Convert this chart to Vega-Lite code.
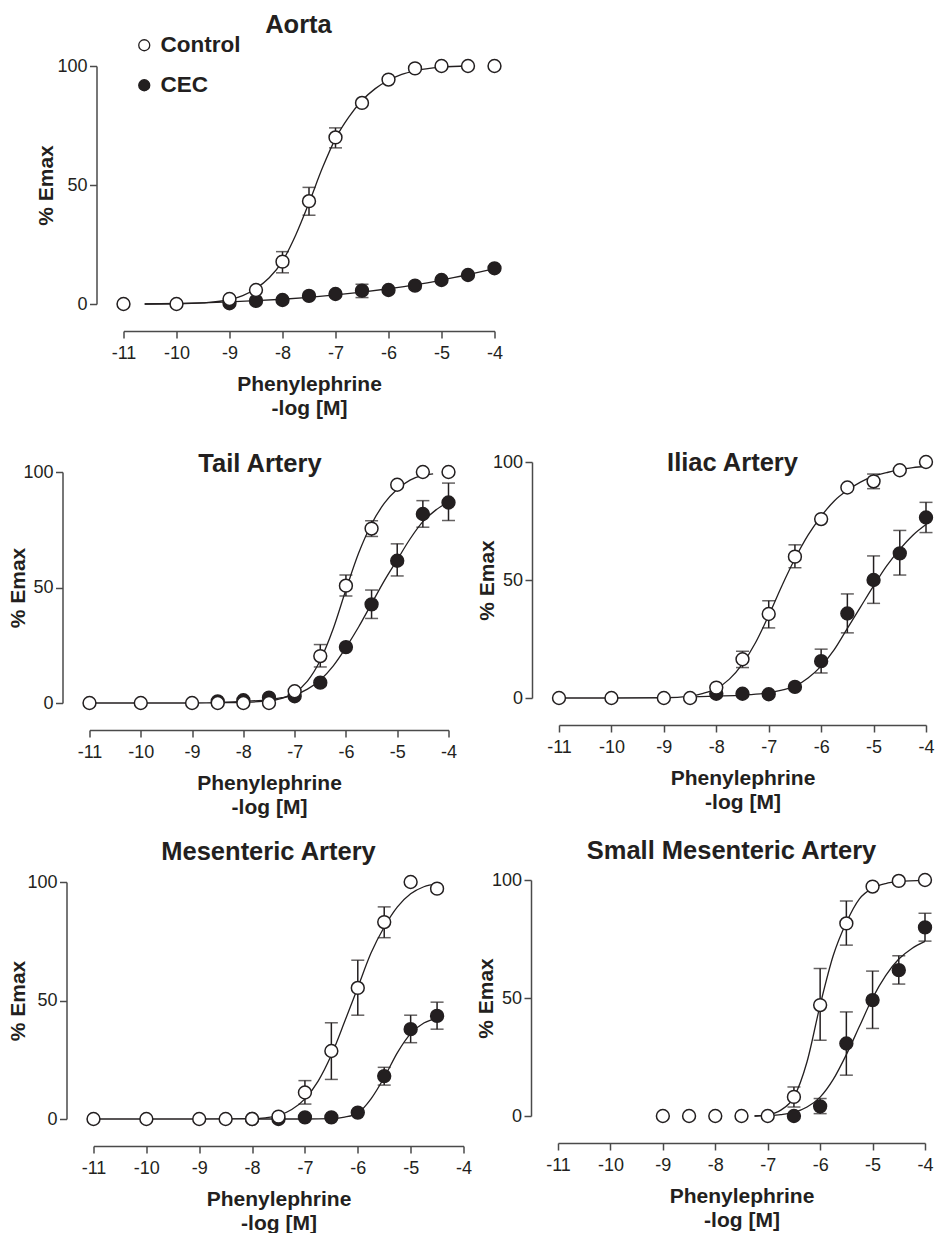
{
  "$schema": "https://vega.github.io/schema/vega-lite/v6.json",
  "background": "white",
  "padding": {"left": 6.5, "top": 12, "right": 0, "bottom": 0},
  "datasets": {
    "points": [
      {"panel": "Aorta", "group": "Control", "x": -11, "y": 0},
      {"panel": "Aorta", "group": "Control", "x": -10, "y": 0},
      {"panel": "Aorta", "group": "Control", "x": -9, "y": 2.1},
      {"panel": "Aorta", "group": "Control", "x": -8.5, "y": 5.9},
      {"panel": "Aorta", "group": "Control", "x": -8, "y": 17.8, "lo": 13.1, "hi": 22},
      {"panel": "Aorta", "group": "Control", "x": -7.5, "y": 43.2, "lo": 37.3, "hi": 49},
      {"panel": "Aorta", "group": "Control", "x": -7, "y": 70, "lo": 65.6, "hi": 74},
      {"panel": "Aorta", "group": "Control", "x": -6.5, "y": 84.5},
      {"panel": "Aorta", "group": "Control", "x": -6, "y": 94.3},
      {"panel": "Aorta", "group": "Control", "x": -5.5, "y": 99},
      {"panel": "Aorta", "group": "Control", "x": -5, "y": 100},
      {"panel": "Aorta", "group": "Control", "x": -4.5, "y": 100},
      {"panel": "Aorta", "group": "Control", "x": -4, "y": 100},
      {"panel": "Aorta", "group": "CEC", "x": -9, "y": 0.3},
      {"panel": "Aorta", "group": "CEC", "x": -8.5, "y": 1.3},
      {"panel": "Aorta", "group": "CEC", "x": -8, "y": 1.7},
      {"panel": "Aorta", "group": "CEC", "x": -7.5, "y": 3.4},
      {"panel": "Aorta", "group": "CEC", "x": -7, "y": 4.2},
      {"panel": "Aorta", "group": "CEC", "x": -6.5, "y": 5.6, "lo": 2.7, "hi": 8.3},
      {"panel": "Aorta", "group": "CEC", "x": -6, "y": 5.9},
      {"panel": "Aorta", "group": "CEC", "x": -5.5, "y": 7.7},
      {"panel": "Aorta", "group": "CEC", "x": -5, "y": 10.1},
      {"panel": "Aorta", "group": "CEC", "x": -4.5, "y": 12.2},
      {"panel": "Aorta", "group": "CEC", "x": -4, "y": 15},

      {"panel": "Tail", "group": "Control", "x": -11, "y": 0},
      {"panel": "Tail", "group": "Control", "x": -10, "y": 0},
      {"panel": "Tail", "group": "Control", "x": -9, "y": 0},
      {"panel": "Tail", "group": "Control", "x": -8.5, "y": 0},
      {"panel": "Tail", "group": "Control", "x": -8, "y": 0},
      {"panel": "Tail", "group": "Control", "x": -7.5, "y": 0},
      {"panel": "Tail", "group": "Control", "x": -7, "y": 5.1},
      {"panel": "Tail", "group": "Control", "x": -6.5, "y": 20.3, "lo": 15.6, "hi": 25.3},
      {"panel": "Tail", "group": "Control", "x": -6, "y": 50.8, "lo": 46.3, "hi": 55.4},
      {"panel": "Tail", "group": "Control", "x": -5.5, "y": 75.5, "lo": 72.1, "hi": 78.9},
      {"panel": "Tail", "group": "Control", "x": -5, "y": 94.5},
      {"panel": "Tail", "group": "Control", "x": -4.5, "y": 100},
      {"panel": "Tail", "group": "Control", "x": -4, "y": 100},
      {"panel": "Tail", "group": "CEC", "x": -8.5, "y": 0.7},
      {"panel": "Tail", "group": "CEC", "x": -8, "y": 1.2},
      {"panel": "Tail", "group": "CEC", "x": -7.5, "y": 2.3},
      {"panel": "Tail", "group": "CEC", "x": -7, "y": 2.9},
      {"panel": "Tail", "group": "CEC", "x": -6.5, "y": 8.8},
      {"panel": "Tail", "group": "CEC", "x": -6, "y": 24.2},
      {"panel": "Tail", "group": "CEC", "x": -5.5, "y": 42.7, "lo": 36.6, "hi": 48.9},
      {"panel": "Tail", "group": "CEC", "x": -5, "y": 61.6, "lo": 55, "hi": 68.9},
      {"panel": "Tail", "group": "CEC", "x": -4.5, "y": 81.8, "lo": 76.1, "hi": 87.6},
      {"panel": "Tail", "group": "CEC", "x": -4, "y": 86.8, "lo": 79, "hi": 95.2},

      {"panel": "Iliac", "group": "Control", "x": -11, "y": 0},
      {"panel": "Iliac", "group": "Control", "x": -10, "y": 0},
      {"panel": "Iliac", "group": "Control", "x": -9, "y": 0},
      {"panel": "Iliac", "group": "Control", "x": -8.5, "y": 0},
      {"panel": "Iliac", "group": "Control", "x": -8, "y": 4.4},
      {"panel": "Iliac", "group": "Control", "x": -7.5, "y": 16.4, "lo": 12.9, "hi": 19.8},
      {"panel": "Iliac", "group": "Control", "x": -7, "y": 35.6, "lo": 29.7, "hi": 41.2},
      {"panel": "Iliac", "group": "Control", "x": -6.5, "y": 59.9, "lo": 55.2, "hi": 64.9},
      {"panel": "Iliac", "group": "Control", "x": -6, "y": 75.8},
      {"panel": "Iliac", "group": "Control", "x": -5.5, "y": 89.2},
      {"panel": "Iliac", "group": "Control", "x": -5, "y": 91.8, "lo": 88.7, "hi": 94.9},
      {"panel": "Iliac", "group": "Control", "x": -4.5, "y": 96.5},
      {"panel": "Iliac", "group": "Control", "x": -4, "y": 100},
      {"panel": "Iliac", "group": "CEC", "x": -8, "y": 1.8},
      {"panel": "Iliac", "group": "CEC", "x": -7.5, "y": 1.8},
      {"panel": "Iliac", "group": "CEC", "x": -7, "y": 1.6},
      {"panel": "Iliac", "group": "CEC", "x": -6.5, "y": 4.7},
      {"panel": "Iliac", "group": "CEC", "x": -6, "y": 15.6, "lo": 10.6, "hi": 20.7},
      {"panel": "Iliac", "group": "CEC", "x": -5.5, "y": 35.8, "lo": 27.6, "hi": 44.1},
      {"panel": "Iliac", "group": "CEC", "x": -5, "y": 50, "lo": 40.1, "hi": 60.2},
      {"panel": "Iliac", "group": "CEC", "x": -4.5, "y": 61.3, "lo": 52.1, "hi": 71},
      {"panel": "Iliac", "group": "CEC", "x": -4, "y": 76.5, "lo": 70.1, "hi": 82.9},

      {"panel": "Mes", "group": "Control", "x": -11, "y": 0},
      {"panel": "Mes", "group": "Control", "x": -10, "y": 0},
      {"panel": "Mes", "group": "Control", "x": -9, "y": 0},
      {"panel": "Mes", "group": "Control", "x": -8.5, "y": 0},
      {"panel": "Mes", "group": "Control", "x": -8, "y": 0},
      {"panel": "Mes", "group": "Control", "x": -7.5, "y": 1},
      {"panel": "Mes", "group": "Control", "x": -7, "y": 11.2, "lo": 6.3, "hi": 16.2},
      {"panel": "Mes", "group": "Control", "x": -6.5, "y": 28.7, "lo": 16.7, "hi": 40.6},
      {"panel": "Mes", "group": "Control", "x": -6, "y": 55.3, "lo": 43.8, "hi": 67},
      {"panel": "Mes", "group": "Control", "x": -5.5, "y": 83.1, "lo": 76.5, "hi": 89.5},
      {"panel": "Mes", "group": "Control", "x": -5, "y": 100},
      {"panel": "Mes", "group": "Control", "x": -4.5, "y": 97.2},
      {"panel": "Mes", "group": "CEC", "x": -8, "y": 0},
      {"panel": "Mes", "group": "CEC", "x": -7.5, "y": 0},
      {"panel": "Mes", "group": "CEC", "x": -7, "y": 0.7},
      {"panel": "Mes", "group": "CEC", "x": -6.5, "y": 0.7},
      {"panel": "Mes", "group": "CEC", "x": -6, "y": 2.7},
      {"panel": "Mes", "group": "CEC", "x": -5.5, "y": 18.1, "lo": 14.3, "hi": 21.8},
      {"panel": "Mes", "group": "CEC", "x": -5, "y": 37.9, "lo": 32.2, "hi": 43.8},
      {"panel": "Mes", "group": "CEC", "x": -4.5, "y": 43.5, "lo": 37.9, "hi": 49.3},

      {"panel": "Small", "group": "Control", "x": -9, "y": 0},
      {"panel": "Small", "group": "Control", "x": -8.5, "y": 0},
      {"panel": "Small", "group": "Control", "x": -8, "y": 0},
      {"panel": "Small", "group": "Control", "x": -7.5, "y": 0},
      {"panel": "Small", "group": "Control", "x": -7, "y": 0},
      {"panel": "Small", "group": "Control", "x": -6.5, "y": 8.1, "lo": 3.8, "hi": 12.3},
      {"panel": "Small", "group": "Control", "x": -6, "y": 47, "lo": 32.1, "hi": 62.5},
      {"panel": "Small", "group": "Control", "x": -5.5, "y": 81.6, "lo": 72.4, "hi": 91.1},
      {"panel": "Small", "group": "Control", "x": -5, "y": 97.2},
      {"panel": "Small", "group": "Control", "x": -4.5, "y": 99.6},
      {"panel": "Small", "group": "Control", "x": -4, "y": 100},
      {"panel": "Small", "group": "CEC", "x": -6.5, "y": 0},
      {"panel": "Small", "group": "CEC", "x": -6, "y": 4.1, "lo": 1, "hi": 7.4},
      {"panel": "Small", "group": "CEC", "x": -5.5, "y": 30.7, "lo": 17.3, "hi": 44.1},
      {"panel": "Small", "group": "CEC", "x": -5, "y": 49.1, "lo": 37.1, "hi": 61.4},
      {"panel": "Small", "group": "CEC", "x": -4.5, "y": 61.8, "lo": 55.9, "hi": 67.9},
      {"panel": "Small", "group": "CEC", "x": -4, "y": 79.9, "lo": 74.1, "hi": 85.9}
    ],
    "curves": [
      {"panel": "Aorta", "group": "Control", "x": -10.6, "y": 0},
      {"panel": "Aorta", "group": "Control", "x": -10, "y": 0.1},
      {"panel": "Aorta", "group": "Control", "x": -9.5, "y": 0.5},
      {"panel": "Aorta", "group": "Control", "x": -9, "y": 1.8},
      {"panel": "Aorta", "group": "Control", "x": -8.75, "y": 3.5},
      {"panel": "Aorta", "group": "Control", "x": -8.5, "y": 6.5},
      {"panel": "Aorta", "group": "Control", "x": -8.25, "y": 11},
      {"panel": "Aorta", "group": "Control", "x": -8, "y": 18},
      {"panel": "Aorta", "group": "Control", "x": -7.75, "y": 29},
      {"panel": "Aorta", "group": "Control", "x": -7.5, "y": 42.5},
      {"panel": "Aorta", "group": "Control", "x": -7.25, "y": 57},
      {"panel": "Aorta", "group": "Control", "x": -7, "y": 69.5},
      {"panel": "Aorta", "group": "Control", "x": -6.75, "y": 78.5},
      {"panel": "Aorta", "group": "Control", "x": -6.5, "y": 85.5},
      {"panel": "Aorta", "group": "Control", "x": -6.25, "y": 90.5},
      {"panel": "Aorta", "group": "Control", "x": -6, "y": 94},
      {"panel": "Aorta", "group": "Control", "x": -5.75, "y": 96.5},
      {"panel": "Aorta", "group": "Control", "x": -5.5, "y": 98},
      {"panel": "Aorta", "group": "Control", "x": -5, "y": 99.5},
      {"panel": "Aorta", "group": "Control", "x": -4.5, "y": 100},
      {"panel": "Aorta", "group": "CEC", "x": -10.6, "y": 0},
      {"panel": "Aorta", "group": "CEC", "x": -10, "y": 0.2},
      {"panel": "Aorta", "group": "CEC", "x": -9.5, "y": 0.5},
      {"panel": "Aorta", "group": "CEC", "x": -9, "y": 0.9},
      {"panel": "Aorta", "group": "CEC", "x": -8.5, "y": 1.4},
      {"panel": "Aorta", "group": "CEC", "x": -8, "y": 2},
      {"panel": "Aorta", "group": "CEC", "x": -7.5, "y": 2.8},
      {"panel": "Aorta", "group": "CEC", "x": -7, "y": 3.8},
      {"panel": "Aorta", "group": "CEC", "x": -6.5, "y": 5},
      {"panel": "Aorta", "group": "CEC", "x": -6, "y": 6.4},
      {"panel": "Aorta", "group": "CEC", "x": -5.5, "y": 8},
      {"panel": "Aorta", "group": "CEC", "x": -5, "y": 10},
      {"panel": "Aorta", "group": "CEC", "x": -4.5, "y": 12.3},
      {"panel": "Aorta", "group": "CEC", "x": -4, "y": 14.8},

      {"panel": "Tail", "group": "Control", "x": -11, "y": 0},
      {"panel": "Tail", "group": "Control", "x": -10, "y": 0},
      {"panel": "Tail", "group": "Control", "x": -9, "y": 0},
      {"panel": "Tail", "group": "Control", "x": -8.5, "y": 0.1},
      {"panel": "Tail", "group": "Control", "x": -8, "y": 0.3},
      {"panel": "Tail", "group": "Control", "x": -7.5, "y": 0.9},
      {"panel": "Tail", "group": "Control", "x": -7.25, "y": 2},
      {"panel": "Tail", "group": "Control", "x": -7, "y": 4.5},
      {"panel": "Tail", "group": "Control", "x": -6.75, "y": 9.5},
      {"panel": "Tail", "group": "Control", "x": -6.5, "y": 18.5},
      {"panel": "Tail", "group": "Control", "x": -6.25, "y": 32},
      {"panel": "Tail", "group": "Control", "x": -6, "y": 49},
      {"panel": "Tail", "group": "Control", "x": -5.75, "y": 65},
      {"panel": "Tail", "group": "Control", "x": -5.5, "y": 77.5},
      {"panel": "Tail", "group": "Control", "x": -5.25, "y": 86.5},
      {"panel": "Tail", "group": "Control", "x": -5, "y": 92.5},
      {"panel": "Tail", "group": "Control", "x": -4.75, "y": 96.5},
      {"panel": "Tail", "group": "Control", "x": -4.5, "y": 98.5},
      {"panel": "Tail", "group": "Control", "x": -4.3, "y": 99.2},
      {"panel": "Tail", "group": "CEC", "x": -8.5, "y": 0.3},
      {"panel": "Tail", "group": "CEC", "x": -8, "y": 0.7},
      {"panel": "Tail", "group": "CEC", "x": -7.5, "y": 1.5},
      {"panel": "Tail", "group": "CEC", "x": -7.25, "y": 2.3},
      {"panel": "Tail", "group": "CEC", "x": -7, "y": 3.5},
      {"panel": "Tail", "group": "CEC", "x": -6.75, "y": 6},
      {"panel": "Tail", "group": "CEC", "x": -6.5, "y": 10},
      {"panel": "Tail", "group": "CEC", "x": -6.25, "y": 16},
      {"panel": "Tail", "group": "CEC", "x": -6, "y": 24},
      {"panel": "Tail", "group": "CEC", "x": -5.75, "y": 33},
      {"panel": "Tail", "group": "CEC", "x": -5.5, "y": 43},
      {"panel": "Tail", "group": "CEC", "x": -5.25, "y": 53},
      {"panel": "Tail", "group": "CEC", "x": -5, "y": 62},
      {"panel": "Tail", "group": "CEC", "x": -4.75, "y": 71},
      {"panel": "Tail", "group": "CEC", "x": -4.5, "y": 78.5},
      {"panel": "Tail", "group": "CEC", "x": -4.25, "y": 83.5},
      {"panel": "Tail", "group": "CEC", "x": -4, "y": 87},

      {"panel": "Iliac", "group": "Control", "x": -11, "y": 0},
      {"panel": "Iliac", "group": "Control", "x": -10, "y": 0},
      {"panel": "Iliac", "group": "Control", "x": -9, "y": 0.1},
      {"panel": "Iliac", "group": "Control", "x": -8.5, "y": 0.8},
      {"panel": "Iliac", "group": "Control", "x": -8.25, "y": 2},
      {"panel": "Iliac", "group": "Control", "x": -8, "y": 4},
      {"panel": "Iliac", "group": "Control", "x": -7.75, "y": 8},
      {"panel": "Iliac", "group": "Control", "x": -7.5, "y": 14.5},
      {"panel": "Iliac", "group": "Control", "x": -7.25, "y": 23.5},
      {"panel": "Iliac", "group": "Control", "x": -7, "y": 35},
      {"panel": "Iliac", "group": "Control", "x": -6.75, "y": 47.5},
      {"panel": "Iliac", "group": "Control", "x": -6.5, "y": 59},
      {"panel": "Iliac", "group": "Control", "x": -6.25, "y": 69},
      {"panel": "Iliac", "group": "Control", "x": -6, "y": 77},
      {"panel": "Iliac", "group": "Control", "x": -5.75, "y": 83.5},
      {"panel": "Iliac", "group": "Control", "x": -5.5, "y": 88},
      {"panel": "Iliac", "group": "Control", "x": -5.25, "y": 91.5},
      {"panel": "Iliac", "group": "Control", "x": -5, "y": 94},
      {"panel": "Iliac", "group": "Control", "x": -4.75, "y": 95.5},
      {"panel": "Iliac", "group": "Control", "x": -4.5, "y": 96.8},
      {"panel": "Iliac", "group": "Control", "x": -4.25, "y": 97.6},
      {"panel": "Iliac", "group": "Control", "x": -4, "y": 98.2},
      {"panel": "Iliac", "group": "CEC", "x": -8.5, "y": 0.5},
      {"panel": "Iliac", "group": "CEC", "x": -8, "y": 0.8},
      {"panel": "Iliac", "group": "CEC", "x": -7.5, "y": 1.2},
      {"panel": "Iliac", "group": "CEC", "x": -7, "y": 2.2},
      {"panel": "Iliac", "group": "CEC", "x": -6.75, "y": 3.3},
      {"panel": "Iliac", "group": "CEC", "x": -6.5, "y": 5},
      {"panel": "Iliac", "group": "CEC", "x": -6.25, "y": 8.5},
      {"panel": "Iliac", "group": "CEC", "x": -6, "y": 13.5},
      {"panel": "Iliac", "group": "CEC", "x": -5.75, "y": 20.5},
      {"panel": "Iliac", "group": "CEC", "x": -5.5, "y": 29.5},
      {"panel": "Iliac", "group": "CEC", "x": -5.25, "y": 38.5},
      {"panel": "Iliac", "group": "CEC", "x": -5, "y": 47.5},
      {"panel": "Iliac", "group": "CEC", "x": -4.75, "y": 56},
      {"panel": "Iliac", "group": "CEC", "x": -4.5, "y": 63},
      {"panel": "Iliac", "group": "CEC", "x": -4.25, "y": 69},
      {"panel": "Iliac", "group": "CEC", "x": -4, "y": 73.5},

      {"panel": "Mes", "group": "Control", "x": -11, "y": 0},
      {"panel": "Mes", "group": "Control", "x": -10, "y": 0},
      {"panel": "Mes", "group": "Control", "x": -9, "y": 0},
      {"panel": "Mes", "group": "Control", "x": -8, "y": 0.1},
      {"panel": "Mes", "group": "Control", "x": -7.75, "y": 0.5},
      {"panel": "Mes", "group": "Control", "x": -7.5, "y": 1.5},
      {"panel": "Mes", "group": "Control", "x": -7.25, "y": 4},
      {"panel": "Mes", "group": "Control", "x": -7, "y": 8.5},
      {"panel": "Mes", "group": "Control", "x": -6.75, "y": 16},
      {"panel": "Mes", "group": "Control", "x": -6.5, "y": 27},
      {"panel": "Mes", "group": "Control", "x": -6.25, "y": 41},
      {"panel": "Mes", "group": "Control", "x": -6, "y": 55.5},
      {"panel": "Mes", "group": "Control", "x": -5.75, "y": 70},
      {"panel": "Mes", "group": "Control", "x": -5.5, "y": 81},
      {"panel": "Mes", "group": "Control", "x": -5.25, "y": 89.5},
      {"panel": "Mes", "group": "Control", "x": -5, "y": 95},
      {"panel": "Mes", "group": "Control", "x": -4.75, "y": 98},
      {"panel": "Mes", "group": "Control", "x": -4.5, "y": 99.2},
      {"panel": "Mes", "group": "CEC", "x": -8, "y": 0},
      {"panel": "Mes", "group": "CEC", "x": -7, "y": 0},
      {"panel": "Mes", "group": "CEC", "x": -6.5, "y": 0.2},
      {"panel": "Mes", "group": "CEC", "x": -6.25, "y": 0.8},
      {"panel": "Mes", "group": "CEC", "x": -6, "y": 2.5},
      {"panel": "Mes", "group": "CEC", "x": -5.75, "y": 8.5},
      {"panel": "Mes", "group": "CEC", "x": -5.5, "y": 17.5},
      {"panel": "Mes", "group": "CEC", "x": -5.25, "y": 28},
      {"panel": "Mes", "group": "CEC", "x": -5, "y": 36},
      {"panel": "Mes", "group": "CEC", "x": -4.75, "y": 40.5},
      {"panel": "Mes", "group": "CEC", "x": -4.5, "y": 42.5},

      {"panel": "Small", "group": "Control", "x": -7.25, "y": 0},
      {"panel": "Small", "group": "Control", "x": -7, "y": 0.5},
      {"panel": "Small", "group": "Control", "x": -6.75, "y": 2.5},
      {"panel": "Small", "group": "Control", "x": -6.5, "y": 8},
      {"panel": "Small", "group": "Control", "x": -6.25, "y": 23},
      {"panel": "Small", "group": "Control", "x": -6, "y": 47},
      {"panel": "Small", "group": "Control", "x": -5.75, "y": 68},
      {"panel": "Small", "group": "Control", "x": -5.5, "y": 82},
      {"panel": "Small", "group": "Control", "x": -5.25, "y": 92},
      {"panel": "Small", "group": "Control", "x": -5, "y": 96.5},
      {"panel": "Small", "group": "Control", "x": -4.75, "y": 98.5},
      {"panel": "Small", "group": "Control", "x": -4.5, "y": 99.3},
      {"panel": "Small", "group": "Control", "x": -4, "y": 99.8},
      {"panel": "Small", "group": "CEC", "x": -7.25, "y": 0},
      {"panel": "Small", "group": "CEC", "x": -7, "y": 0.2},
      {"panel": "Small", "group": "CEC", "x": -6.75, "y": 0.6},
      {"panel": "Small", "group": "CEC", "x": -6.5, "y": 1.5},
      {"panel": "Small", "group": "CEC", "x": -6.25, "y": 3.8},
      {"panel": "Small", "group": "CEC", "x": -6, "y": 8},
      {"panel": "Small", "group": "CEC", "x": -5.75, "y": 15.5},
      {"panel": "Small", "group": "CEC", "x": -5.5, "y": 26},
      {"panel": "Small", "group": "CEC", "x": -5.25, "y": 38},
      {"panel": "Small", "group": "CEC", "x": -5, "y": 50},
      {"panel": "Small", "group": "CEC", "x": -4.75, "y": 59.5},
      {"panel": "Small", "group": "CEC", "x": -4.5, "y": 66.5},
      {"panel": "Small", "group": "CEC", "x": -4.25, "y": 71},
      {"panel": "Small", "group": "CEC", "x": -4, "y": 74}
    ]
  },
  "resolve": {"scale": {"fill": "independent"}, "legend": {"fill": "independent"}},
  "columns": 1,
  "align": "none",
  "spacing": 32,
  "concat": [
    {
      "width": 405, "height": 238,
      "title": {"text": "Aorta", "offset": -4, "dx": 6.5},
      "encoding": {
        "x": {"field": "x", "type": "quantitative", "title": ["Phenylephrine", "-log [M]"], "scale": {"domain": [-11, -4], "range": [34, 405], "nice": false, "zero": false}, "axis": {"labelExpr": "'' + datum.value"}},
        "y": {"field": "y", "type": "quantitative", "title": "% Emax", "scale": {"domain": [0, 100], "nice": false}, "axis": {"titlePadding": 0.5, "offset": -7}}
      },
      "layer": [
        {"data": {"name": "curves"}, "transform": [{"filter": "datum.panel === 'Aorta'"}], "mark": {"type": "line", "interpolate": "monotone", "color": "#231f20", "strokeWidth": 1.3}, "encoding": {"detail": {"field": "group", "type": "nominal"}}},
        {"data": {"name": "points"}, "transform": [{"filter": "datum.panel === 'Aorta' && isValid(datum.lo)"}], "mark": {"type": "rule", "color": "#231f20", "strokeWidth": 1.5}, "encoding": {"y": {"field": "lo", "type": "quantitative", "title": "% Emax", "scale": {"domain": [0, 100], "nice": false}}, "y2": {"field": "hi"}}},
        {"data": {"name": "points"}, "transform": [{"filter": "datum.panel === 'Aorta' && isValid(datum.lo)"}, {"fold": ["lo", "hi"], "as": ["end", "v"]}], "mark": {"type": "tick", "orient": "horizontal", "color": "#231f20", "size": 13, "thickness": 1.5}, "encoding": {"y": {"field": "v", "type": "quantitative", "title": "% Emax", "scale": {"domain": [0, 100], "nice": false}}}},
        {"data": {"name": "points"}, "transform": [{"filter": "datum.panel === 'Aorta' && datum.group === 'CEC'"}], "mark": {"type": "point", "shape": "circle", "filled": true, "stroke": "#231f20", "strokeWidth": 1.5, "size": 165, "opacity": 1},
         "encoding": {"fill": {"field": "group", "type": "nominal", "scale": {"domain": ["Control", "CEC"], "range": ["white", "#231f20"]}, "legend": {"orient": "none", "legendX": 43.5, "legendY": -32, "title": null, "padding": 0, "labelFontSize": 22.5, "labelFontWeight": "bold", "labelColor": "#231f20", "labelFont": "Liberation Sans", "symbolType": "circle", "symbolSize": 121, "symbolStrokeColor": "#231f20", "symbolStrokeWidth": 1.3, "rowPadding": 17, "labelOffset": 5}}}},
        {"data": {"name": "points"}, "transform": [{"filter": "datum.panel === 'Aorta' && datum.group === 'Control'"}], "mark": {"type": "point", "shape": "circle", "filled": true, "stroke": "#231f20", "strokeWidth": 1.5, "size": 165, "opacity": 1},
         "encoding": {"fill": {"field": "group", "type": "nominal", "scale": {"domain": ["Control", "CEC"], "range": ["white", "#231f20"]}, "legend": {"orient": "none", "legendX": 43.5, "legendY": -32, "title": null, "padding": 0, "labelFontSize": 22.5, "labelFontWeight": "bold", "labelColor": "#231f20", "labelFont": "Liberation Sans", "symbolType": "circle", "symbolSize": 121, "symbolStrokeColor": "#231f20", "symbolStrokeWidth": 1.3, "rowPadding": 17, "labelOffset": 5}}}}
      ]
    },
    {
      "columns": 1,
      "align": "none",
      "spacing": 22,
      "concat": [
        {
          "columns": 2,
          "align": "none",
          "spacing": 17.5,
          "concat": [
            {
              "width": 359, "height": 241,
              "title": {"text": "Tail Artery", "offset": -15.5, "dx": -9},
              "encoding": {
                "x": {"field": "x", "type": "quantitative", "title": ["Phenylephrine", "-log [M]"], "scale": {"domain": [-11, -4], "nice": false, "zero": false}, "axis": {"labelExpr": "'' + datum.value"}},
                "y": {"field": "y", "type": "quantitative", "title": "% Emax", "scale": {"domain": [0, 100], "range": [241, 10], "nice": false}}
              },
              "layer": [
                {"data": {"name": "curves"}, "transform": [{"filter": "datum.panel === 'Tail'"}], "mark": {"type": "line", "interpolate": "monotone", "color": "#231f20", "strokeWidth": 1.3}, "encoding": {"detail": {"field": "group", "type": "nominal"}}},
                {"data": {"name": "points"}, "transform": [{"filter": "datum.panel === 'Tail' && isValid(datum.lo)"}], "mark": {"type": "rule", "color": "#231f20", "strokeWidth": 1.5}, "encoding": {"y": {"field": "lo", "type": "quantitative", "title": "% Emax", "scale": {"domain": [0, 100], "range": [241, 10], "nice": false}}, "y2": {"field": "hi"}}},
                {"data": {"name": "points"}, "transform": [{"filter": "datum.panel === 'Tail' && isValid(datum.lo)"}, {"fold": ["lo", "hi"], "as": ["end", "v"]}], "mark": {"type": "tick", "orient": "horizontal", "color": "#231f20", "size": 13, "thickness": 1.5}, "encoding": {"y": {"field": "v", "type": "quantitative", "title": "% Emax", "scale": {"domain": [0, 100], "range": [241, 10], "nice": false}}}},
                {"data": {"name": "points"}, "transform": [{"filter": "datum.panel === 'Tail' && datum.group === 'CEC'"}], "mark": {"type": "point", "shape": "circle", "filled": true, "fill": "#231f20", "stroke": "#231f20", "strokeWidth": 1.5, "size": 165, "opacity": 1}},
                {"data": {"name": "points"}, "transform": [{"filter": "datum.panel === 'Tail' && datum.group === 'Control'"}], "mark": {"type": "point", "shape": "circle", "filled": true, "fill": "white", "stroke": "#231f20", "strokeWidth": 1.5, "size": 165, "opacity": 1}}
              ]
            },
            {
              "width": 367, "height": 236,
              "title": {"text": "Iliac Artery", "offset": -23.5, "dx": -10},
              "encoding": {
                "x": {"field": "x", "type": "quantitative", "title": ["Phenylephrine", "-log [M]"], "scale": {"domain": [-11, -4], "nice": false, "zero": false}, "axis": {"labelExpr": "'' + datum.value"}},
                "y": {"field": "y", "type": "quantitative", "title": "% Emax", "scale": {"domain": [0, 100], "nice": false}}
              },
              "layer": [
                {"data": {"name": "curves"}, "transform": [{"filter": "datum.panel === 'Iliac'"}], "mark": {"type": "line", "interpolate": "monotone", "color": "#231f20", "strokeWidth": 1.3}, "encoding": {"detail": {"field": "group", "type": "nominal"}}},
                {"data": {"name": "points"}, "transform": [{"filter": "datum.panel === 'Iliac' && isValid(datum.lo)"}], "mark": {"type": "rule", "color": "#231f20", "strokeWidth": 1.5}, "encoding": {"y": {"field": "lo", "type": "quantitative", "title": "% Emax", "scale": {"domain": [0, 100], "nice": false}}, "y2": {"field": "hi"}}},
                {"data": {"name": "points"}, "transform": [{"filter": "datum.panel === 'Iliac' && isValid(datum.lo)"}, {"fold": ["lo", "hi"], "as": ["end", "v"]}], "mark": {"type": "tick", "orient": "horizontal", "color": "#231f20", "size": 13, "thickness": 1.5}, "encoding": {"y": {"field": "v", "type": "quantitative", "title": "% Emax", "scale": {"domain": [0, 100], "nice": false}}}},
                {"data": {"name": "points"}, "transform": [{"filter": "datum.panel === 'Iliac' && datum.group === 'CEC'"}], "mark": {"type": "point", "shape": "circle", "filled": true, "fill": "#231f20", "stroke": "#231f20", "strokeWidth": 1.5, "size": 165, "opacity": 1}},
                {"data": {"name": "points"}, "transform": [{"filter": "datum.panel === 'Iliac' && datum.group === 'Control'"}], "mark": {"type": "point", "shape": "circle", "filled": true, "fill": "white", "stroke": "#231f20", "strokeWidth": 1.5, "size": 165, "opacity": 1}}
              ]
            }
          ]
        },
        {
          "columns": 2,
          "align": "none",
          "spacing": 2.5,
          "concat": [
            {
              "width": 374, "height": 239,
              "title": {"text": "Mesenteric Artery", "offset": 7.5, "dx": -8},
              "encoding": {
                "x": {"field": "x", "type": "quantitative", "title": ["Phenylephrine", "-log [M]"], "scale": {"domain": [-11, -4], "range": [4, 374], "nice": false, "zero": false}, "axis": {"labelExpr": "'' + datum.value"}},
                "y": {"field": "y", "type": "quantitative", "title": "% Emax", "scale": {"domain": [0, 100], "range": [239, 2], "nice": false}, "axis": {"titlePadding": -1.5, "offset": 23}}
              },
              "layer": [
                {"data": {"name": "curves"}, "transform": [{"filter": "datum.panel === 'Mes'"}], "mark": {"type": "line", "interpolate": "monotone", "color": "#231f20", "strokeWidth": 1.3}, "encoding": {"detail": {"field": "group", "type": "nominal"}}},
                {"data": {"name": "points"}, "transform": [{"filter": "datum.panel === 'Mes' && isValid(datum.lo)"}], "mark": {"type": "rule", "color": "#231f20", "strokeWidth": 1.5}, "encoding": {"y": {"field": "lo", "type": "quantitative", "title": "% Emax", "scale": {"domain": [0, 100], "range": [239, 2], "nice": false}}, "y2": {"field": "hi"}}},
                {"data": {"name": "points"}, "transform": [{"filter": "datum.panel === 'Mes' && isValid(datum.lo)"}, {"fold": ["lo", "hi"], "as": ["end", "v"]}], "mark": {"type": "tick", "orient": "horizontal", "color": "#231f20", "size": 13, "thickness": 1.5}, "encoding": {"y": {"field": "v", "type": "quantitative", "title": "% Emax", "scale": {"domain": [0, 100], "range": [239, 2], "nice": false}}}},
                {"data": {"name": "points"}, "transform": [{"filter": "datum.panel === 'Mes' && datum.group === 'CEC'"}], "mark": {"type": "point", "shape": "circle", "filled": true, "fill": "#231f20", "stroke": "#231f20", "strokeWidth": 1.5, "size": 165, "opacity": 1}},
                {"data": {"name": "points"}, "transform": [{"filter": "datum.panel === 'Mes' && datum.group === 'Control'"}], "mark": {"type": "point", "shape": "circle", "filled": true, "fill": "white", "stroke": "#231f20", "strokeWidth": 1.5, "size": 165, "opacity": 1}}
              ]
            },
            {
              "width": 367, "height": 236,
              "title": {"text": "Small Mesenteric Artery", "offset": 6, "dx": -10},
              "encoding": {
                "x": {"field": "x", "type": "quantitative", "title": ["Phenylephrine", "-log [M]"], "scale": {"domain": [-11, -4], "nice": false, "zero": false}, "axis": {"labelExpr": "'' + datum.value"}},
                "y": {"field": "y", "type": "quantitative", "title": "% Emax", "scale": {"domain": [0, 100], "nice": false}}
              },
              "layer": [
                {"data": {"name": "curves"}, "transform": [{"filter": "datum.panel === 'Small'"}], "mark": {"type": "line", "interpolate": "monotone", "color": "#231f20", "strokeWidth": 1.3}, "encoding": {"detail": {"field": "group", "type": "nominal"}}},
                {"data": {"name": "points"}, "transform": [{"filter": "datum.panel === 'Small' && isValid(datum.lo)"}], "mark": {"type": "rule", "color": "#231f20", "strokeWidth": 1.5}, "encoding": {"y": {"field": "lo", "type": "quantitative", "title": "% Emax", "scale": {"domain": [0, 100], "nice": false}}, "y2": {"field": "hi"}}},
                {"data": {"name": "points"}, "transform": [{"filter": "datum.panel === 'Small' && isValid(datum.lo)"}, {"fold": ["lo", "hi"], "as": ["end", "v"]}], "mark": {"type": "tick", "orient": "horizontal", "color": "#231f20", "size": 13, "thickness": 1.5}, "encoding": {"y": {"field": "v", "type": "quantitative", "title": "% Emax", "scale": {"domain": [0, 100], "nice": false}}}},
                {"data": {"name": "points"}, "transform": [{"filter": "datum.panel === 'Small' && datum.group === 'CEC'"}], "mark": {"type": "point", "shape": "circle", "filled": true, "fill": "#231f20", "stroke": "#231f20", "strokeWidth": 1.5, "size": 165, "opacity": 1}},
                {"data": {"name": "points"}, "transform": [{"filter": "datum.panel === 'Small' && datum.group === 'Control'"}], "mark": {"type": "point", "shape": "circle", "filled": true, "fill": "white", "stroke": "#231f20", "strokeWidth": 1.5, "size": 165, "opacity": 1}}
              ]
            }
          ]
        }
      ]
    }
  ],
  "config": {
    "view": {"stroke": null},
    "font": "Liberation Sans",
    "title": {"font": "Liberation Sans", "fontSize": 25.5, "fontWeight": "bold", "color": "#231f20", "anchor": "middle", "frame": "group", "baseline": "alphabetic"},
    "axis": {
      "grid": false,
      "offset": 27,
      "domainColor": "#4a4a4a",
      "domainWidth": 1.5,
      "tickColor": "#4a4a4a",
      "tickWidth": 1.5,
      "tickSize": 7,
      "labelFont": "Liberation Sans",
      "labelFontSize": 18,
      "labelColor": "#231f20",
      "labelFlush": false,
      "labelOverlap": false,
      "titleFont": "Liberation Sans",
      "titleFontSize": 21,
      "titleFontWeight": "bold",
      "titleColor": "#231f20"
    },
    "axisX": {"tickCount": 7, "labelPadding": 6, "titlePadding": 11, "titleLineHeight": 24},
    "axisY": {"tickCount": 2, "labelPadding": 2.5, "titlePadding": -5.5}
  }
}
